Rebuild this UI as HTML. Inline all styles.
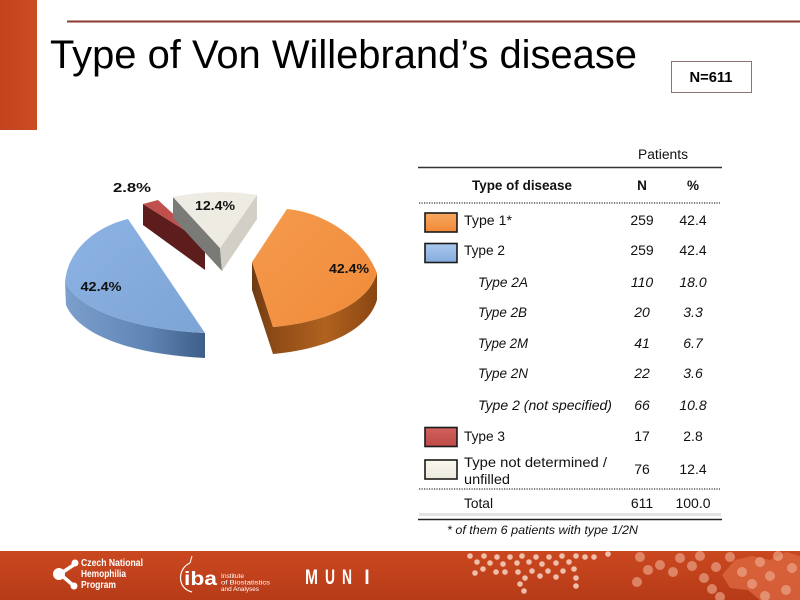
<!DOCTYPE html>
<html>
<head>
<meta charset="utf-8">
<style>
  html,body{margin:0;padding:0;background:#fff;}
  svg{display:block;}
  text{font-family:"Liberation Sans",sans-serif;}
</style>
</head>
<body>
<svg width="800" height="600" viewBox="0 0 800 600" xmlns="http://www.w3.org/2000/svg">
  <defs>
    <linearGradient id="bar" x1="0" y1="0" x2="1" y2="0">
      <stop offset="0" stop-color="#C2431D"/>
      <stop offset="1" stop-color="#CC4C22"/>
    </linearGradient>
    <linearGradient id="foot" x1="0" y1="0" x2="0" y2="1">
      <stop offset="0" stop-color="#CA4820"/>
      <stop offset="1" stop-color="#B73B18"/>
    </linearGradient>
    <linearGradient id="blueTop" x1="0" y1="0" x2="1" y2="1">
      <stop offset="0" stop-color="#8CB3E3"/>
      <stop offset="1" stop-color="#7DA4D6"/>
    </linearGradient>
    <linearGradient id="blueSide" x1="0" y1="0" x2="1" y2="0">
      <stop offset="0" stop-color="#7C9FCD"/>
      <stop offset="0.6" stop-color="#5F84B4"/>
      <stop offset="1" stop-color="#3E5E88"/>
    </linearGradient>
    <linearGradient id="orTop" x1="0" y1="0" x2="1" y2="1">
      <stop offset="0" stop-color="#F59A4C"/>
      <stop offset="1" stop-color="#F08B3A"/>
    </linearGradient>
    <linearGradient id="orSide" x1="0" y1="0" x2="1" y2="0">
      <stop offset="0" stop-color="#8E4A16"/>
      <stop offset="0.5" stop-color="#B0621F"/>
      <stop offset="1" stop-color="#8A4612"/>
    </linearGradient>
    <linearGradient id="orLeft" x1="0" y1="0" x2="1" y2="0">
      <stop offset="0" stop-color="#6F3A10"/>
      <stop offset="1" stop-color="#8D4B17"/>
    </linearGradient>
    <linearGradient id="sw1" x1="0" y1="0" x2="0" y2="1">
      <stop offset="0" stop-color="#F8A860"/>
      <stop offset="1" stop-color="#F08936"/>
    </linearGradient>
    <linearGradient id="sw2" x1="0" y1="0" x2="0" y2="1">
      <stop offset="0" stop-color="#A9C8EE"/>
      <stop offset="1" stop-color="#86ACDD"/>
    </linearGradient>
    <linearGradient id="sw3" x1="0" y1="0" x2="0" y2="1">
      <stop offset="0" stop-color="#D3625E"/>
      <stop offset="1" stop-color="#BC4A47"/>
    </linearGradient>
    <linearGradient id="sw4" x1="0" y1="0" x2="0" y2="1">
      <stop offset="0" stop-color="#FAF8F0"/>
      <stop offset="1" stop-color="#ECE9DC"/>
    </linearGradient>
  </defs>

  <!-- header -->
  <rect x="0" y="0" width="37" height="130" fill="url(#bar)"/>
  <line x1="67" y1="21.5" x2="800" y2="21.5" stroke="#8B3A2E" stroke-width="2"/>
  <text x="50" y="68" font-size="40" fill="#000" textLength="587" lengthAdjust="spacingAndGlyphs">Type of Von Willebrand’s disease</text>

  <rect x="671.5" y="61.5" width="80" height="31" fill="#fff" stroke="#8E7373" stroke-width="1"/>
  <text x="711" y="82" font-size="15" font-weight="bold" text-anchor="middle" fill="#000" textLength="43" lengthAdjust="spacingAndGlyphs">N=611</text>

  <!-- pie: blue -->
  <path d="M65,282 C80,312 140,330 205,333 L205,358 C140,355 80,338 66,305 Z" fill="url(#blueSide)"/>
  <path d="M205,333 L128,219 C98,226 68,248 65,282 C80,312 140,330 205,333 Z" fill="url(#blueTop)"/>

  <!-- pie: red -->
  <path d="M143,204 L205,243 L205,270 L143,225 Z" fill="#5E1D1D"/>
  <path d="M143,204 L158,200 L205,243 Z" fill="#C0504D"/>

  <!-- pie: grey -->
  <path d="M173,197 L220,248 L222,271 L173,218 Z" fill="#7A7A76"/>
  <path d="M257,195 L257,219 L222,271 L220,248 Z" fill="#D2D0C6"/>
  <path d="M173,197 Q215,188 257,195 L220,248 Z" fill="#EEECE2"/>

  <!-- pie: orange -->
  <path d="M252,262 L273,327 L273,354 L252,290 Z" fill="url(#orLeft)"/>
  <path d="M273,327 C328,322 368,303 377,273 L377,300 C368,330 328,349 273,354 Z" fill="url(#orSide)"/>
  <path d="M287,209 C322,212 362,236 377,273 C368,303 328,322 273,327 L252,262 Z" fill="url(#orTop)"/>

  <!-- pie labels -->
  <g font-size="13" font-weight="bold" fill="#111" text-anchor="middle">
    <text x="132" y="192" textLength="38" lengthAdjust="spacingAndGlyphs">2.8%</text>
    <text x="215" y="210" textLength="40" lengthAdjust="spacingAndGlyphs">12.4%</text>
    <text x="349" y="273" textLength="40" lengthAdjust="spacingAndGlyphs">42.4%</text>
    <text x="101" y="291" textLength="41" lengthAdjust="spacingAndGlyphs">42.4%</text>
  </g>

  <!-- table -->
  <text x="663" y="159" font-size="13.5" text-anchor="middle" fill="#111" textLength="50" lengthAdjust="spacingAndGlyphs">Patients</text>
  <line x1="418" y1="167.5" x2="722" y2="167.5" stroke="#333" stroke-width="1.5"/>
  <text x="472" y="190" font-size="13.5" font-weight="bold" fill="#111" textLength="100" lengthAdjust="spacingAndGlyphs">Type of disease</text>
  <text x="642" y="190" font-size="13.5" font-weight="bold" fill="#111" text-anchor="middle">N</text>
  <text x="693" y="190" font-size="13.5" font-weight="bold" fill="#111" text-anchor="middle">%</text>
  <line x1="419" y1="203" x2="720" y2="203" stroke="#333" stroke-width="1.2" stroke-dasharray="1.2,1.3"/>

  <!-- swatches -->
  <rect x="425" y="213" width="32" height="19" fill="url(#sw1)" stroke="#1a1a1a" stroke-width="1.6"/>
  <rect x="425" y="243.5" width="32" height="19" fill="url(#sw2)" stroke="#1a1a1a" stroke-width="1.6"/>
  <rect x="425" y="427.5" width="32" height="19" fill="url(#sw3)" stroke="#1a1a1a" stroke-width="1.6"/>
  <rect x="425" y="460" width="32" height="19" fill="url(#sw4)" stroke="#1a1a1a" stroke-width="1.6"/>

  <g font-size="14" fill="#111">
    <text x="464" y="225" textLength="48" lengthAdjust="spacingAndGlyphs">Type 1*</text>
    <text x="642" y="225" text-anchor="middle">259</text>
    <text x="693" y="225" text-anchor="middle">42.4</text>

    <text x="464" y="255" textLength="41" lengthAdjust="spacingAndGlyphs">Type 2</text>
    <text x="642" y="255" text-anchor="middle">259</text>
    <text x="693" y="255" text-anchor="middle">42.4</text>

    <g font-style="italic">
      <text x="478" y="287" textLength="50" lengthAdjust="spacingAndGlyphs">Type 2A</text>
      <text x="642" y="287" text-anchor="middle">110</text>
      <text x="693" y="287" text-anchor="middle">18.0</text>

      <text x="478" y="317" textLength="49" lengthAdjust="spacingAndGlyphs">Type 2B</text>
      <text x="642" y="317" text-anchor="middle">20</text>
      <text x="693" y="317" text-anchor="middle">3.3</text>

      <text x="478" y="348" textLength="50" lengthAdjust="spacingAndGlyphs">Type 2M</text>
      <text x="642" y="348" text-anchor="middle">41</text>
      <text x="693" y="348" text-anchor="middle">6.7</text>

      <text x="478" y="378" textLength="50" lengthAdjust="spacingAndGlyphs">Type 2N</text>
      <text x="642" y="378" text-anchor="middle">22</text>
      <text x="693" y="378" text-anchor="middle">3.6</text>

      <text x="478" y="410" textLength="134" lengthAdjust="spacingAndGlyphs">Type 2 (not specified)</text>
      <text x="642" y="410" text-anchor="middle">66</text>
      <text x="693" y="410" text-anchor="middle">10.8</text>
    </g>

    <text x="464" y="441" textLength="41" lengthAdjust="spacingAndGlyphs">Type 3</text>
    <text x="642" y="441" text-anchor="middle">17</text>
    <text x="693" y="441" text-anchor="middle">2.8</text>

    <text x="464" y="467" textLength="143" lengthAdjust="spacingAndGlyphs">Type not determined /</text>
    <text x="464" y="484" textLength="46" lengthAdjust="spacingAndGlyphs">unfilled</text>
    <text x="642" y="474" text-anchor="middle">76</text>
    <text x="693" y="474" text-anchor="middle">12.4</text>
  </g>
  <line x1="419" y1="489" x2="720" y2="489" stroke="#333" stroke-width="1.2" stroke-dasharray="1.2,1.3"/>
  <g font-size="14" fill="#111">
    <text x="464" y="508" textLength="29" lengthAdjust="spacingAndGlyphs">Total</text>
    <text x="642" y="508" text-anchor="middle">611</text>
    <text x="693" y="508" text-anchor="middle">100.0</text>
  </g>
  <line x1="419" y1="514.5" x2="721" y2="514.5" stroke="#E4E4E4" stroke-width="3"/>
  <line x1="418" y1="519.5" x2="722" y2="519.5" stroke="#222" stroke-width="1.5"/>
  <text x="447" y="534" font-size="11.5" font-style="italic" fill="#111" textLength="191" lengthAdjust="spacingAndGlyphs">* of them 6 patients with type 1/2N</text>

  <!-- footer -->
  <rect x="0" y="551" width="800" height="49" fill="url(#foot)"/>
  <path d="M722,575 L735,560 L752,556 L770,560 L786,552 L800,556 L800,600 L760,600 L748,590 L730,588 Z" fill="#DE6A43" opacity="0.75"/>
  <g fill="#F4CDBB" opacity="0.9">
    <circle cx="470" cy="556" r="2.8"/><circle cx="477" cy="562" r="2.8"/><circle cx="484" cy="556" r="2.8"/>
    <circle cx="490" cy="563" r="2.8"/><circle cx="497" cy="557" r="2.8"/><circle cx="475" cy="573" r="2.8"/>
    <circle cx="483" cy="569" r="2.8"/><circle cx="503" cy="564" r="2.8"/><circle cx="510" cy="557" r="2.8"/>
    <circle cx="517" cy="563" r="2.8"/><circle cx="522" cy="556" r="2.8"/><circle cx="529" cy="562" r="2.8"/>
    <circle cx="536" cy="557" r="2.8"/><circle cx="542" cy="564" r="2.8"/><circle cx="549" cy="557" r="2.8"/>
    <circle cx="556" cy="563" r="2.8"/><circle cx="562" cy="556" r="2.8"/><circle cx="569" cy="562" r="2.8"/>
    <circle cx="576" cy="556" r="2.8"/><circle cx="585" cy="557" r="2.8"/><circle cx="594" cy="557" r="2.8"/>
    <circle cx="505" cy="572" r="2.8"/><circle cx="518" cy="572" r="2.8"/><circle cx="525" cy="578" r="2.8"/>
    <circle cx="532" cy="571" r="2.8"/><circle cx="540" cy="576" r="2.8"/><circle cx="548" cy="571" r="2.8"/>
    <circle cx="556" cy="577" r="2.8"/><circle cx="563" cy="571" r="2.8"/><circle cx="574" cy="569" r="2.8"/>
    <circle cx="520" cy="584" r="2.8"/><circle cx="524" cy="591" r="2.8"/><circle cx="576" cy="578" r="2.8"/>
    <circle cx="576" cy="586" r="2.8"/><circle cx="608" cy="554" r="2.8"/><circle cx="496" cy="572" r="2.8"/>
  </g>
  <g fill="#F0B096" opacity="0.6">
    <circle cx="640" cy="557" r="5"/><circle cx="648" cy="570" r="5"/><circle cx="637" cy="582" r="5"/>
    <circle cx="660" cy="565" r="5"/><circle cx="673" cy="572" r="5"/><circle cx="680" cy="558" r="5"/>
    <circle cx="692" cy="566" r="5"/><circle cx="700" cy="556" r="5"/><circle cx="704" cy="578" r="5"/>
    <circle cx="712" cy="589" r="5"/><circle cx="716" cy="567" r="5"/><circle cx="720" cy="597" r="5"/>
    <circle cx="730" cy="557" r="5"/><circle cx="742" cy="572" r="5"/><circle cx="752" cy="584" r="5"/>
    <circle cx="760" cy="562" r="5"/><circle cx="770" cy="576" r="5"/><circle cx="778" cy="556" r="5"/>
    <circle cx="786" cy="590" r="5"/><circle cx="792" cy="568" r="5"/><circle cx="765" cy="596" r="5"/>
  </g>

  <!-- logo 1 -->
  <g fill="#fff" stroke="#fff">
    <line x1="60" y1="574" x2="75" y2="564" stroke-width="3.5"/>
    <line x1="60" y1="574" x2="74" y2="586" stroke-width="3.5"/>
    <circle cx="59" cy="574" r="6" stroke="none"/>
    <circle cx="75" cy="563" r="3.5" stroke="none"/>
    <circle cx="74" cy="586" r="3.5" stroke="none"/>
  </g>
  <g font-size="10" font-weight="bold" fill="#fff">
    <text x="81" y="566" textLength="62" lengthAdjust="spacingAndGlyphs">Czech National</text>
    <text x="81" y="577" textLength="45" lengthAdjust="spacingAndGlyphs">Hemophilia</text>
    <text x="81" y="588" textLength="35" lengthAdjust="spacingAndGlyphs">Program</text>
  </g>
  <!-- logo iba -->
  <path d="M190,563 C178,568 176,588 192,592" stroke="#fff" stroke-width="1.2" fill="none"/>
  <path d="M190,563 L192,556" stroke="#fff" stroke-width="1" fill="none"/>
  <text x="184" y="585" font-size="19" font-weight="bold" fill="#fff" textLength="33" lengthAdjust="spacingAndGlyphs">iba</text>
  <g font-size="6.5" fill="#fff">
    <text x="221" y="578" textLength="23" lengthAdjust="spacingAndGlyphs">Institute</text>
    <text x="221" y="584.5" textLength="49" lengthAdjust="spacingAndGlyphs">of Biostatistics</text>
    <text x="221" y="591" textLength="38" lengthAdjust="spacingAndGlyphs">and Analyses</text>
  </g>
  <!-- MUNI -->
  <g font-size="21" font-weight="bold" fill="#fff">
    <text x="305" y="584" textLength="13" lengthAdjust="spacingAndGlyphs">M</text>
    <text x="325" y="584" textLength="10" lengthAdjust="spacingAndGlyphs">U</text>
    <text x="342" y="584" textLength="10" lengthAdjust="spacingAndGlyphs">N</text>
    <text x="363" y="584" font-family="Liberation Serif, serif" font-weight="normal" textLength="8" lengthAdjust="spacingAndGlyphs">I</text>
  </g>
</svg>
</body>
</html>
